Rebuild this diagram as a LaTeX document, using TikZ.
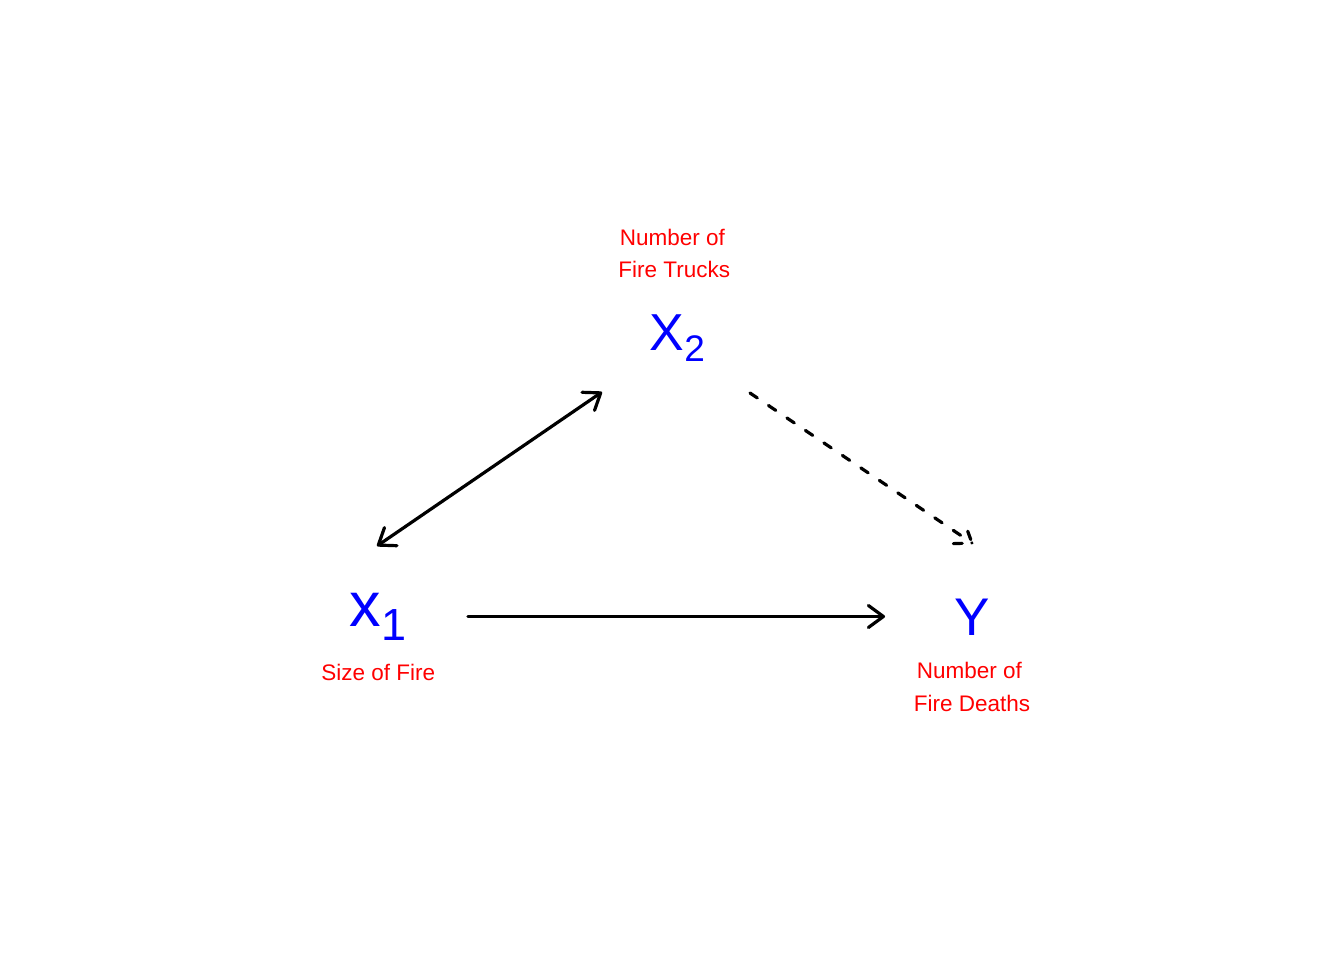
\documentclass[tikz,border=0pt]{standalone}
\usepackage{fontspec}
\setmainfont{Liberation Sans}
\usetikzlibrary{arrows.meta,calc}
\definecolor{lblred}{RGB}{255,0,0}
\definecolor{varblue}{RGB}{0,0,255}
\begin{document}
\begin{tikzpicture}[x=1pt,y=-1pt,
  lbl/.style={text=lblred,inner sep=0pt,anchor=base,font=\fontsize{22.5}{27}\selectfont},
  var/.style={text=varblue,inner sep=0pt,anchor=base west},
  conn/.style={line width=3.2pt,draw=black,line cap=round,line join=round},
  barb/.tip={Straight Barb[length=15pt,width=22pt,line cap=round,line join=round]},
  dashconn/.style={conn,dash pattern=on 8.8pt off 13.5pt},
]
\fill[white] (0,0) rectangle (1344,960);
\path[use as bounding box] (0,0) rectangle (1344,960);

% variables
\node[var,font=\fontsize{52}{52}\selectfont] (x2) at (649.5,350.7) {X\raisebox{-11pt}{\fontsize{37}{37}\selectfont 2}};
\node[var,font=\fontsize{63}{63}\selectfont] (x1) at (349.3,626) {x\raisebox{-14.5pt}{\fontsize{45}{45}\selectfont 1}};
\node[var,font=\fontsize{53}{53}\selectfont] (y) at (954.5,635.7) {Y};

% labels
\node[lbl] (trucks1) at (672.3,245) {Number of};
\node[lbl] (trucks2) at (674.2,277.3) {Fire Trucks};
\node[lbl] (size) at (378.3,680) {Size of Fire};
\node[lbl] (deaths1) at (969.3,678.3) {Number of};
\node[lbl] (deaths2) at (972.1,711) {Fire Deaths};

% connector end points
\coordinate (a1) at (377,546);
\coordinate (a2) at (602,392);
\coordinate (d1) at (750,393);
\coordinate (d2) at (972,543);
\coordinate (h1) at (468,616.5);
\coordinate (h2) at (885,616.5);

\draw[conn,barb-barb] (a1) -- (a2);
\draw[conn,-barb] (h1) -- (h2);
\draw[dashconn] (d1) -- (d2);
\coordinate (dA) at ($(d2)!18.6pt!36:(d1)$);
\coordinate (dB) at ($(d2)!18.6pt!-36:(d1)$);
\draw[dashconn] (dA) -- (d2) -- (dB);
\end{tikzpicture}
\end{document}
